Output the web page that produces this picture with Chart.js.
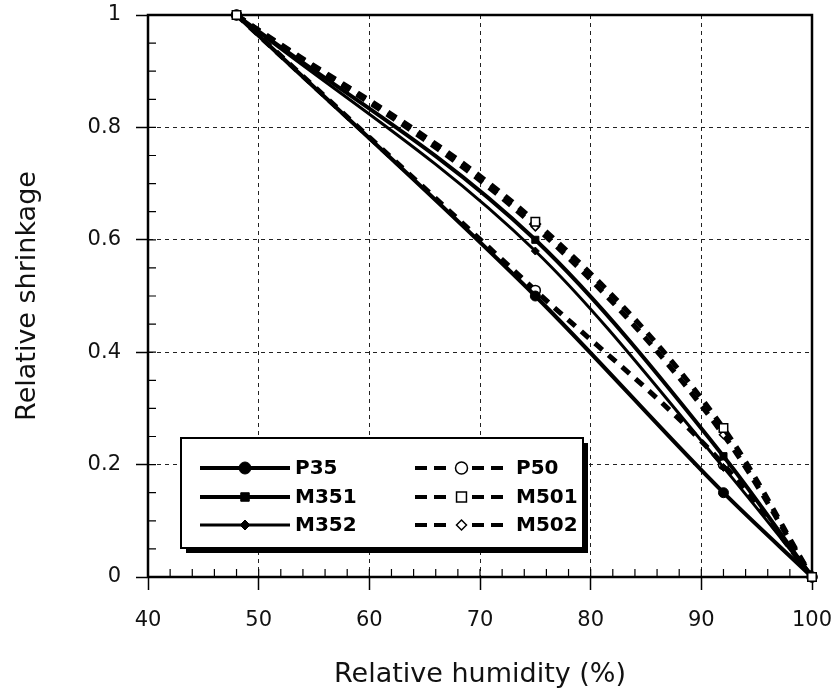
<!DOCTYPE html>
<html>
<head>
<meta charset="utf-8">
<script src="https://cdn.jsdelivr.net/npm/chart.js@4.4.1/dist/chart.umd.min.js"></script>
<style>
  body { margin: 0; background: #fff; }
  #wrap { width: 836px; height: 694px; }
</style>
</head>
<body>
<div id="wrap"><canvas id="shrinkage-chart"></canvas></div>
<script>
// relative humidity (%) where shrinkage was measured
const humidity = [48, 75, 92, 100];

// relative shrinkage per mix
const p35 = [1, 0.50, 0.15, 0];
const m351 = [1, 0.60, 0.215, 0];
const m352 = [1, 0.58, 0.195, 0];
const p50 = [1, 0.51, 0.20, 0];
const m501 = [1, 0.632, 0.265, 0];
const m502 = [1, 0.623, 0.253, 0];

const xTicks = [40, 50, 60, 70, 80, 90, 100];
const yTicks = [0, 0.2, 0.4, 0.6, 0.8, 1];

const FONT = '"DejaVu Sans", "Liberation Sans", sans-serif';

const pts = vals => humidity.map((h, i) => ({ x: h, y: vals[i] }));

const solid = (label, vals, style, radius, width) => ({
  label,
  data: pts(vals),
  borderColor: '#000',
  borderWidth: width,
  pointStyle: style,
  pointRadius: radius,
  pointBackgroundColor: '#000',
  pointBorderColor: '#000',
  pointBorderWidth: 1,
  cubicInterpolationMode: 'monotone',
  clip: false
});

const dashed = (label, vals, style, radius) => ({
  label,
  data: pts(vals),
  borderColor: '#000',
  borderWidth: 5,
  borderDash: [10, 8],
  pointStyle: style,
  pointRadius: radius,
  pointBackgroundColor: '#fff',
  pointBorderColor: '#000',
  pointBorderWidth: 1.5,
  cubicInterpolationMode: 'monotone',
  clip: false
});

// frame, inward minor ticks
const framePlugin = {
  id: 'frame',
  beforeDatasetsDraw(chart) {
    const { ctx, chartArea: a, scales: { x, y } } = chart;
    ctx.save();
    ctx.strokeStyle = '#000';
    ctx.lineWidth = 1.2;
    ctx.beginPath();
    for (let v = 42; v < 100; v += 2) {
      const px = x.getPixelForValue(v);
      ctx.moveTo(px, a.bottom);
      ctx.lineTo(px, a.bottom - 8);
    }
    for (let k = 1; k < 20; k++) {
      const py = y.getPixelForValue(k * 0.05);
      ctx.moveTo(a.left, py);
      ctx.lineTo(a.left + 8, py);
    }
    ctx.stroke();
    ctx.lineWidth = 2.5;
    ctx.strokeRect(a.left, a.top, a.right - a.left, a.bottom - a.top);
    ctx.restore();
  }
};

// boxed legend with drop shadow inside the plot
const legendPlugin = {
  id: 'boxLegend',
  afterDatasetsDraw(chart) {
    const { ctx } = chart;
    const bx = 181, by = 438, bw = 402, bh = 110;
    ctx.save();
    ctx.fillStyle = '#000';
    ctx.fillRect(bx + 5, by + 5, bw, bh);
    ctx.fillStyle = '#fff';
    ctx.fillRect(bx, by, bw, bh);
    ctx.strokeStyle = '#000';
    ctx.lineWidth = 2;
    ctx.strokeRect(bx, by, bw, bh);

    const rows = [468, 497, 525];
    const cols = [{ x0: 200, x1: 290, tx: 295 }, { x0: 415, x1: 508, tx: 516 }];
    chart.data.datasets.forEach((ds, i) => {
      const c = cols[Math.floor(i / 3)];
      const ry = rows[i % 3];
      ctx.strokeStyle = '#000';
      ctx.lineWidth = ds.borderDash ? 4 : ds.borderWidth;
      ctx.setLineDash(ds.borderDash ? [12, 7] : []);
      ctx.beginPath();
      ctx.moveTo(c.x0, ry);
      ctx.lineTo(c.x1, ry);
      ctx.stroke();
      ctx.setLineDash([]);
      const mx = (c.x0 + c.x1) / 2;
      if (ds.borderDash) {
        ctx.fillStyle = '#fff';
        ctx.fillRect(mx - 9, ry - 7, 18, 14);
      }
      ctx.fillStyle = ds.pointBackgroundColor;
      ctx.strokeStyle = '#000';
      ctx.lineWidth = ds.pointBorderWidth;
      Chart.helpers.drawPoint(ctx, { pointStyle: ds.pointStyle, radius: ds.pointRadius + 1, rotation: 0, borderWidth: ds.pointBorderWidth }, mx, ry);
      ctx.fillStyle = '#000';
      ctx.font = 'bold 20px ' + FONT;
      ctx.textBaseline = 'middle';
      ctx.textAlign = 'left';
      ctx.fillText(ds.label, c.tx, ry + 1);
    });
    ctx.restore();
  }
};

const tickFont = { family: FONT, size: 21 };
const titleFont = { family: FONT, size: 27 };

const datasets = [
  solid('P35', p35, 'circle', 5, 4),
  solid('M351', m351, 'rect', 5, 4),
  solid('M352', m352, 'rectRot', 4, 3),
  dashed('P50', p50, 'circle', 5),
  dashed('M501', m501, 'rect', 6),
  dashed('M502', m502, 'rectRot', 4)
];
datasets[4].order = -1;

new Chart(document.getElementById('shrinkage-chart'), {
  type: 'line',
  data: { datasets },
  options: {
    responsive: true,
    maintainAspectRatio: false,
    animation: false,
    layout: { padding: { top: 15, right: 24, left: 0, bottom: 0 } },
    plugins: { legend: { display: false }, tooltip: { enabled: false } },
    scales: {
      x: {
        type: 'linear',
        min: 40,
        max: 100,
        afterFit: s => { s.height = 117; s.paddingLeft = 0; s.paddingRight = 0; },
        afterBuildTicks: s => { s.ticks = xTicks.map(v => ({ value: v })); },
        ticks: { color: '#111', font: tickFont, padding: 18, maxRotation: 0 },
        grid: { color: '#222', lineWidth: 1, tickLength: 13, tickColor: '#000', tickWidth: 1.5, tickBorderDash: [] },
        border: { display: true, color: '#000', width: 2, dash: [4, 4] },
        title: { display: true, text: 'Relative humidity (%)', color: '#111', font: titleFont, padding: { top: 0, bottom: 3 } }
      },
      y: {
        type: 'linear',
        min: 0,
        max: 1,
        afterFit: s => { s.width = 148; s.paddingTop = 0; s.paddingBottom = 0; },
        afterBuildTicks: s => { s.ticks = yTicks.map(v => ({ value: v })); },
        ticks: { color: '#111', font: tickFont, padding: 15, callback: v => String(v) },
        grid: { color: '#222', lineWidth: 1, tickLength: 12, tickColor: '#000', tickWidth: 1.5, tickBorderDash: [] },
        border: { display: true, color: '#000', width: 2, dash: [4, 4] },
        title: { display: true, text: 'Relative shrinkage', color: '#111', font: titleFont, padding: { top: 12, bottom: 0 } }
      }
    }
  },
  plugins: [framePlugin, legendPlugin]
});
</script>
</body>
</html>
